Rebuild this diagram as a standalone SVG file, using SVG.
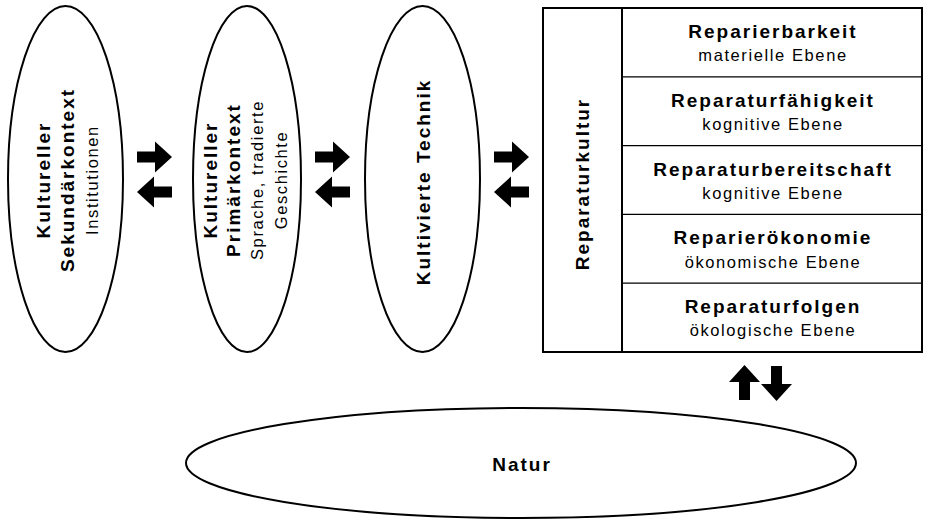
<svg xmlns="http://www.w3.org/2000/svg" xmlns:xlink="http://www.w3.org/1999/xlink" width="925" height="520" viewBox="0 0 925 520">
<style>
.shape{fill:#fff;stroke:#000;stroke-width:2}
.div{stroke:#000;stroke-width:1.2;fill:none}
.b{font-family:"Liberation Sans",Arial,sans-serif;font-weight:bold;font-size:19px;letter-spacing:2px;fill:#000;text-anchor:middle}
.r{font-family:"Liberation Sans",Arial,sans-serif;font-size:16.5px;letter-spacing:1.6px;fill:#000;text-anchor:middle}
.arr{fill:#000}
</style>
<defs>
<path id="ar" d="M0,-5.5 H18 V-15.5 L35,0 L18,15.5 V5.5 H0 Z"/>
</defs>
<rect width="925" height="520" fill="#fff"/>
<g id="natur">
<ellipse class="shape" cx="521" cy="463" rx="335" ry="55"/>
<text class="b" x="522" y="471">Natur</text>
</g>
<g id="sekundaerkontext">
<ellipse class="shape" cx="65.5" cy="179" rx="57.5" ry="173"/>
<g transform="translate(50,180) rotate(-90)"><text class="b" x="0" y="0">Kultureller</text></g>
<g transform="translate(74,180) rotate(-90)"><text class="b" x="0" y="0">Sekundärkontext</text></g>
<g transform="translate(97.5,180) rotate(-90)"><text class="r" x="0" y="0">Institutionen</text></g>
</g>
<g id="primaerkontext">
<ellipse class="shape" cx="247" cy="179" rx="54" ry="173"/>
<g transform="translate(216.5,180) rotate(-90)"><text class="b" x="0" y="0">Kultureller</text></g>
<g transform="translate(240,180) rotate(-90)"><text class="b" x="0" y="0">Primärkontext</text></g>
<g transform="translate(262.5,180) rotate(-90)"><text class="r" x="0" y="0">Sprache, tradierte</text></g>
<g transform="translate(286.5,180) rotate(-90)"><text class="r" x="0" y="0">Geschichte</text></g>
</g>
<g id="technik">
<ellipse class="shape" cx="422.5" cy="179" rx="57.5" ry="173"/>
<g transform="translate(430,182) rotate(-90)"><text class="b" x="0" y="0">Kultivierte Technik</text></g>
</g>
<g id="reparaturkultur">
<rect class="shape" x="543" y="8" width="379" height="344"/>
<line class="div" x1="622" y1="8" x2="622" y2="352" style="stroke-width:2"/>
<line class="div" x1="622" y1="76.8" x2="922" y2="76.8"/>
<line class="div" x1="622" y1="145.6" x2="922" y2="145.6"/>
<line class="div" x1="622" y1="214.4" x2="922" y2="214.4"/>
<line class="div" x1="622" y1="283.2" x2="922" y2="283.2"/>
<g transform="translate(589,184) rotate(-90)"><text class="b" x="0" y="0">Reparaturkultur</text></g>
<g id="reparierbarkeit">
<text class="b" x="773" y="37.5">Reparierbarkeit</text>
<text class="r" x="773" y="61">materielle Ebene</text>
</g>
<g id="reparaturfaehigkeit">
<text class="b" x="773" y="106.5">Reparaturfähigkeit</text>
<text class="r" x="773" y="130">kognitive Ebene</text>
</g>
<g id="reparaturbereitschaft">
<text class="b" x="773" y="175.5">Reparaturbereitschaft</text>
<text class="r" x="773" y="199">kognitive Ebene</text>
</g>
<g id="reparieroekonomie">
<text class="b" x="773" y="244">Reparierökonomie</text>
<text class="r" x="773" y="267.5">ökonomische Ebene</text>
</g>
<g id="reparaturfolgen">
<text class="b" x="773" y="312.5">Reparaturfolgen</text>
<text class="r" x="773" y="336">ökologische Ebene</text>
</g>
</g>
<g id="connectors" class="arr">
<use xlink:href="#ar" href="#ar" transform="translate(137,157)"/>
<use xlink:href="#ar" href="#ar" transform="translate(172,192) scale(-1,1)"/>
<use xlink:href="#ar" href="#ar" transform="translate(315,157)"/>
<use xlink:href="#ar" href="#ar" transform="translate(350,192) scale(-1,1)"/>
<use xlink:href="#ar" href="#ar" transform="translate(494,157)"/>
<use xlink:href="#ar" href="#ar" transform="translate(529,192) scale(-1,1)"/>
<use xlink:href="#ar" href="#ar" transform="translate(744.5,400) rotate(-90)"/>
<use xlink:href="#ar" href="#ar" transform="translate(776.5,366) rotate(90)"/>
</g>
</svg>
